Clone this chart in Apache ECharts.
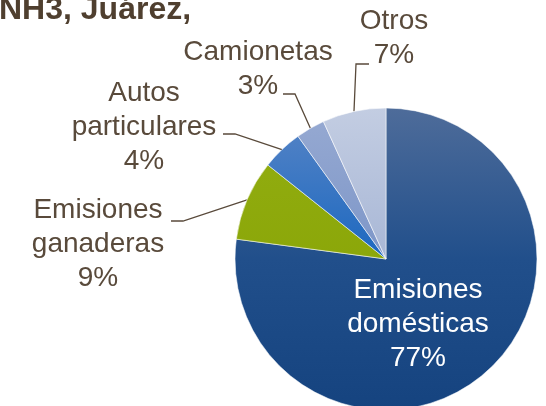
<!DOCTYPE html>
<html>
<head>
<meta charset="utf-8">
<script src="https://cdn.jsdelivr.net/npm/echarts@6/dist/echarts.min.js"></script>
<style>html,body{margin:0;padding:0;background:#fff;}#c{width:546px;height:406px;}</style>
</head>
<body>
<div id="c"></div>
<script>
var categories = ['Emisiones\ndomésticas', 'Emisiones\nganaderas', 'Autos\nparticulares', 'Camionetas', 'Otros'];
var values = [77.1, 8.6, 4.4, 3.1, 6.8];
var titleText = 'NH3, Juárez,';

var G = function (stops) {
  return new echarts.graphic.LinearGradient(0, 108, 0, 410, stops.map(function (c, i) {
    return { offset: c[0], color: c[1] };
  }), true);
};
var colors = [
  G([[0, '#4e6c9a'], [0.5, '#214f8b'], [1, '#15437f']]),
  G([[0, '#93ae12'], [1, '#84a000']]),
  G([[0, '#5a86c6'], [0.5, '#1c68c0'], [1, '#1766c0']]),
  G([[0, '#97aad2'], [0.5, '#7d96c8'], [1, '#7d96c8']]),
  G([[0, '#c3cde2'], [0.5, '#a8b7d6'], [1, '#a8b7d6']])
];

// label block centres and leader-line elbows (layout only)
var labelPos = [
  { x: 418, y: 324 },
  { x: 98, y: 244, elbow: [183, 221], end: [171, 221] },
  { x: 144, y: 127, elbow: [235, 134], end: [223, 134] },
  { x: 258, y: 69, elbow: [295, 94], end: [283, 94] },
  { x: 394, y: 38, elbow: [356, 64], end: [369, 64] }
];

var chart = echarts.init(document.getElementById('c'));
var data = categories.map(function (n, i) {
  var d = { name: n, value: values[i], itemStyle: { color: colors[i] } };
  if (i === 0) {
    d.label = { position: 'inside', color: '#ffffff' };
    d.labelLine = { show: false };
  }
  return d;
});

chart.setOption({
  animation: false,
  graphic: [{
    type: 'text',
    left: -1,
    top: -6,
    style: {
      text: titleText,
      font: 'bold 32px "Liberation Sans", Arial, sans-serif',
      fill: '#4f3f2f'
    }
  }],
  series: [{
    type: 'pie',
    center: [386, 259],
    radius: 151,
    startAngle: 90,
    clockwise: true,
    avoidLabelOverlap: false,
    percentPrecision: 0,
    itemStyle: { borderColor: 'rgba(255,255,255,0.55)', borderWidth: 1 },
    label: {
      show: true,
      position: 'outside',
      formatter: '{b}\n{d}%',
      fontFamily: '"Liberation Sans", Arial, sans-serif',
      fontSize: 28,
      lineHeight: 34,
      color: '#594a3b',
      align: 'center'
    },
    labelLine: {
      show: true,
      lineStyle: { color: '#594a3b', width: 1.3 }
    },
    labelLayout: function (p) {
      var lp = labelPos[p.dataIndex];
      var out = { x: lp.x, y: lp.y, align: 'center', verticalAlign: 'middle' };
      if (lp.elbow && p.labelLinePoints) {
        out.labelLinePoints = [p.labelLinePoints[0], lp.elbow, lp.end];
      }
      return out;
    },
    data: data
  }]
});
</script>
</body>
</html>
